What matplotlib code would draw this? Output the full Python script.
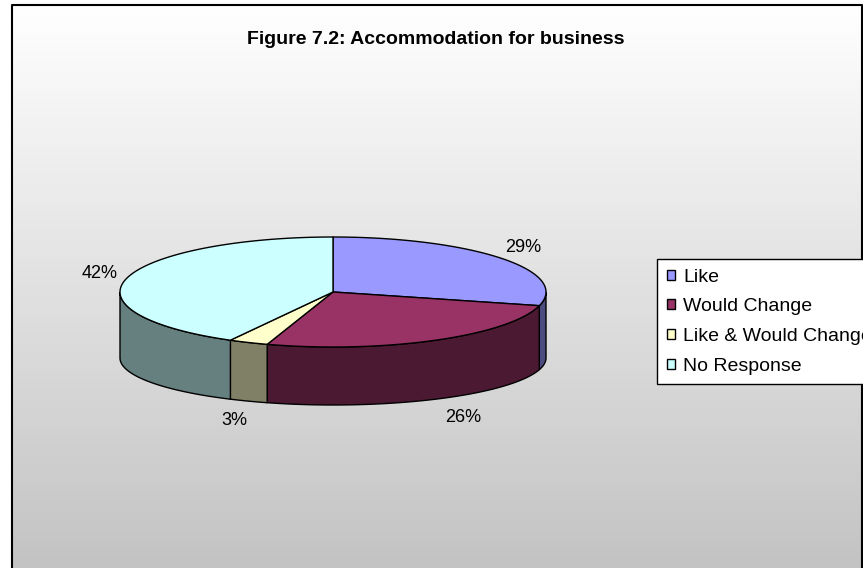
import numpy as np
import matplotlib
matplotlib.use("Agg")
import matplotlib.pyplot as plt
from matplotlib.patches import Polygon, Patch
from matplotlib.colors import LinearSegmentedColormap

# ---- data ----
categories = ["Like", "Would Change", "Like & Would Change", "No Response"]
shares = [29, 26, 3, 42]
top_colors = ["#9999FF", "#993366", "#FFFFCC", "#CCFFFF"]
side_colors = ["#4C4C80", "#4C1933", "#808066", "#668080"]
title = "Figure 7.2: Accommodation for business"

# layout nudges for the percentage labels (pixels)
label_dx = [0, 14, -3, 0]

plt.rcParams['font.family'] = ['Liberation Sans', 'DejaVu Sans']

W, H = 863, 568
fig = plt.figure(figsize=(W / 100, H / 100), dpi=100)
ax = fig.add_axes([0, 0, 1, 1])
ax.set_xlim(0, W)
ax.set_ylim(H, 0)
ax.axis('off')

# background gradient (chart area)
left, top, right = 12, 5, 861.5
grad = np.linspace(0, 1, 256).reshape(-1, 1)
cmap = LinearSegmentedColormap.from_list("bg", ["#FFFFFF", "#C3C3C3"])
ax.imshow(grad, cmap=cmap, aspect='auto', extent=[left, right, H, top], zorder=0)
ax.plot([left, left, right, right], [H, top, top, H], color='black', lw=1.5,
        zorder=1, solid_capstyle='projecting')

# ---- 3D pie geometry ----
cx, cy, a, b = 333, 292, 213, 55
depth, b_bot = 66, 47
fr = np.array(shares, dtype=float) / sum(shares)
starts = 90 - 360 * np.concatenate([[0], np.cumsum(fr)[:-1]])
ends = starts - 360 * fr


def pt(th, bottom=False):
    r = np.radians(th)
    if bottom:
        return cx + a * np.cos(r), cy + depth - b_bot * np.sin(r)
    return cx + a * np.cos(r), cy - b * np.sin(r)


# side walls
for s, e, col in zip(starts, ends, side_colors):
    for k in range(-2, 2):
        lo, hi = max(e, -180 + 360 * k), min(s, 360 * k)
        if hi > lo:
            th = np.linspace(hi, lo, 80)
            xs, ys = pt(th)
            xb, yb = pt(th[::-1], bottom=True)
            poly = np.column_stack([np.concatenate([xs, xb]),
                                    np.concatenate([ys, yb])])
            ax.add_patch(Polygon(poly, closed=True, fc=col, ec='black',
                                 lw=1.0, zorder=2))

# top faces
for s, e, col in zip(starts, ends, top_colors):
    th = np.linspace(s, e, 120)
    xs, ys = pt(th)
    poly = np.column_stack([np.concatenate([[cx], xs]),
                            np.concatenate([[cy], ys])])
    ax.add_patch(Polygon(poly, closed=True, fc=col, ec='black', lw=1.0,
                         zorder=3))

# labels
for s, e, v, dx in zip(starts, ends, shares, label_dx):
    m = np.radians((s + e) / 2)
    lx = cx + (a + 28) * np.cos(m) + dx
    ly = cy - (b + 18) * np.sin(m) + (depth - 4 if np.sin(m) < 0 else 0)
    ax.text(lx, ly, f"{v}%", ha='center', va='center', fontsize=13,
            color='black', zorder=4)

# title
ax.text(436, 40, title, ha='center', va='center', fontsize=14,
        fontweight='bold', zorder=4)

# legend (clipped at the right edge, as in the original)
handles = [Patch(fc=c, ec='black', lw=1.0) for c in top_colors]
leg = fig.legend(handles, categories, loc='upper left',
                 bbox_to_anchor=(657 / W, 1 - 259 / H),
                 bbox_transform=fig.transFigure, borderaxespad=0,
                 fontsize=14, frameon=True, fancybox=False, shadow=False,
                 handlelength=0.4, handleheight=0.4, handletextpad=0.45,
                 labelspacing=0.65, borderpad=0.5)
leg.get_frame().set_edgecolor('black')
leg.get_frame().set_linewidth(1.0)
leg.get_frame().set_facecolor('white')
leg.get_frame().set_alpha(1)
leg.set_zorder(10)

fig.savefig("out.png", dpi=100)
